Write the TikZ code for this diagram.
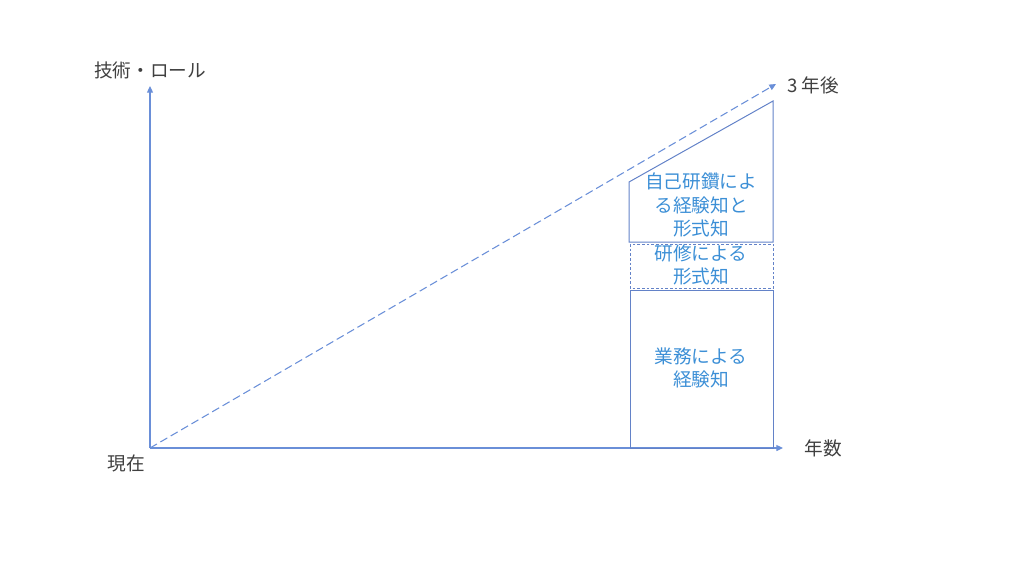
\documentclass[tikz,border=0pt]{standalone}
\usepackage{fontspec}
\setmainfont{Noto Sans CJK JP}
\usetikzlibrary{arrows.meta}
\definecolor{axiscol}{HTML}{6A8FD8}
\definecolor{boxcol}{HTML}{6382C8}
\definecolor{txtblue}{HTML}{3C8FD6}
\definecolor{txtgray}{HTML}{404040}
\tikzset{
  axis/.style={draw=axiscol, line width=0.9pt, -{Triangle[length=5pt,width=4.5pt]}},
  diag/.style={draw=axiscol, line width=0.8pt, dash pattern=on 6pt off 3pt, -{Triangle[length=5pt,width=4.5pt]}},
  boxline/.style={draw=boxcol, line width=0.75pt},
  lbl/.style={text=txtgray, font=\fontsize{14}{16}\selectfont, inner sep=0pt},
  boxtxt/.style={text=txtblue, font=\fontsize{14}{17.5}\selectfont, align=center, inner sep=0pt}
}
\begin{document}
\begin{tikzpicture}[x=0.75pt,y=-0.75pt]
\useasboundingbox (0,0) rectangle (1024,576);
\coordinate (O) at (150,448);
\coordinate (Ytop) at (150,86);
\coordinate (Xend) at (783,448);
\coordinate (Dend) at (776,84);
\draw[axis] (O) -- (Ytop);
\draw[axis] (O) -- (Xend);
\draw[diag] (O) -- (Dend);
% boxes
\draw[boxline] (629,182) -- (773,101) -- (773,242) -- (629,242) -- cycle;
\draw[boxline, dash pattern=on 2pt off 1.5pt] (630,244) rectangle (773,288);
\draw[boxline] (630,290) rectangle (773,448);
% texts
\node[boxtxt] (t1) at (701,205) {自己研鑽によ\\る経験知と\\形式知};
\node[boxtxt] (t2) at (701,265) {研修による\\形式知};
\node[boxtxt] (t3) at (701,368) {業務による\\経験知};
\node[lbl] (ylab) at (150,70) {技術・ロール};
\node[lbl] (xlab) at (823,448) {年数};
\node[lbl] (dlab) at (813,85) {3 年後};
\node[lbl] (olab) at (126,463) {現在};
\end{tikzpicture}
\end{document}
